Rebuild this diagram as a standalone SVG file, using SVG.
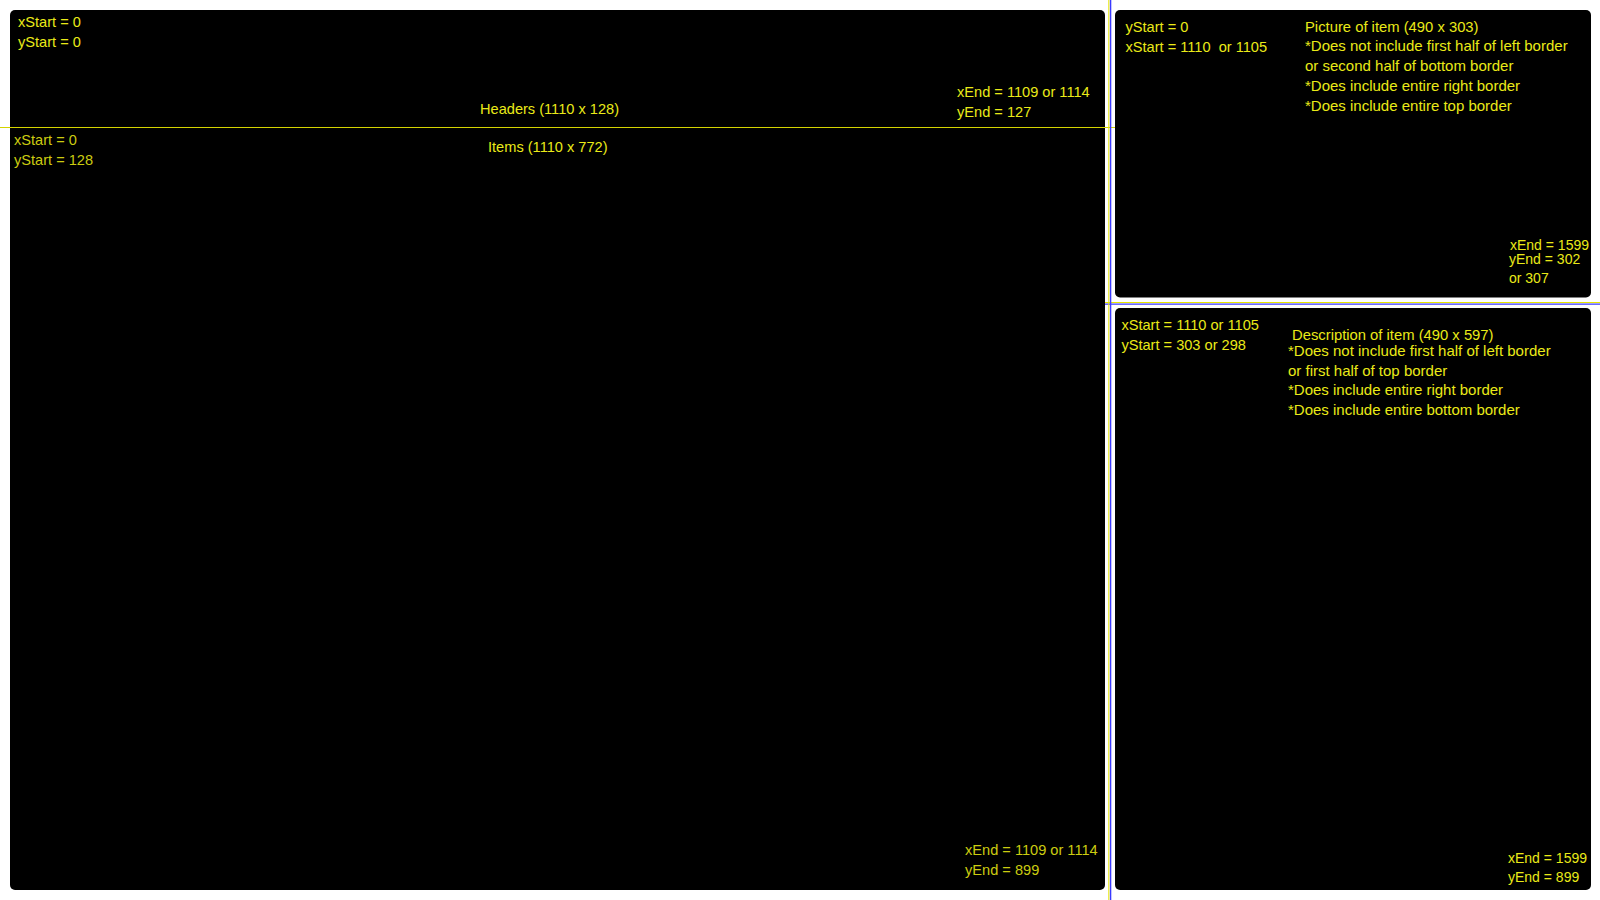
<svg xmlns="http://www.w3.org/2000/svg" width="1600" height="900" viewBox="0 0 1600 900">
<style>
.panel{fill:#000000}
text{font-family:"Liberation Sans",Arial,sans-serif;fill:#eaea18}
.c{font-size:14.6px}
.e{font-size:14px}
.p{font-size:15px}
.thin{fill:#cccc10;font-size:14.6px}
</style>
<rect width="1600" height="900" fill="#ffffff"/>
<g id="main-panel">
<rect class="panel" x="10" y="10" width="1095" height="880" rx="5"/>
</g>
<g id="picture-panel">
<rect class="panel" x="1115" y="10" width="476" height="287.5" rx="5"/>
</g>
<g id="description-panel">
<rect class="panel" x="1115" y="308" width="476" height="582" rx="5"/>
</g>
<g id="connectors">
<line x1="0" y1="127.5" x2="1115" y2="127.5" stroke="#d4d400" stroke-width="1.2"/>
<line x1="1105" y1="302.5" x2="1600" y2="302.5" stroke="#e6e600" stroke-width="1.2"/>
<line x1="1105" y1="304.2" x2="1600" y2="304.2" stroke="#3a3aff" stroke-width="1.2"/>
<line x1="1108.8" y1="0" x2="1108.8" y2="900" stroke="#e6e600" stroke-width="1"/>
<line x1="1110.6" y1="0" x2="1110.6" y2="900" stroke="#3a3aff" stroke-width="1.4"/>
</g>
<g id="headers">
<text class="c" x="18" y="27">xStart = 0</text>
<text class="c" x="18" y="47">yStart = 0</text>
<text class="c" x="480" y="114">Headers (1110 x 128)</text>
<text class="c" x="957" y="96.5">xEnd = 1109 or 1114</text>
<text class="c" x="957" y="116.7">yEnd = 127</text>
</g>
<g id="items">
<text class="thin" x="14" y="144.5">xStart = 0</text>
<text class="thin" x="14" y="164.5">yStart = 128</text>
<text class="c" x="488" y="151.5">Items (1110 x 772)</text>
<text class="thin" x="965" y="854.5">xEnd = 1109 or 1114</text>
<text class="thin" x="965" y="875">yEnd = 899</text>
</g>
<g id="picture">
<text class="c" x="1125.5" y="32">yStart = 0</text>
<text class="c" x="1125.5" y="52.4" xml:space="preserve">xStart = 1110  or 1105</text>
<text class="p" x="1305" y="32" style="font-size:14.8px">Picture of item (490 x 303)</text>
<text class="p" x="1305" y="51.4">*Does not include first half of left border</text>
<text class="p" x="1305" y="70.8">or second half of bottom border</text>
<text class="p" x="1305" y="91.2">*Does include entire right border</text>
<text class="p" x="1305" y="110.6">*Does include entire top border</text>
<text class="e" x="1510" y="250.4">xEnd = 1599</text>
<text class="e" x="1509" y="263.7">yEnd = 302</text>
<text class="e" x="1509" y="283">or 307</text>
</g>
<g id="description">
<text class="c" x="1121.4" y="330">xStart = 1110 or 1105</text>
<text class="c" x="1121.4" y="350.4">yStart = 303 or 298</text>
<text class="p" x="1292" y="340.2" style="font-size:14.8px">Description of item (490 x 597)</text>
<text class="p" x="1288" y="355.5">*Does not include first half of left border</text>
<text class="p" x="1288" y="376">or first half of top border</text>
<text class="p" x="1288" y="395.3">*Does include entire right border</text>
<text class="p" x="1288" y="414.7">*Does include entire bottom border</text>
<text class="e" x="1508" y="862.6">xEnd = 1599</text>
<text class="e" x="1508" y="882">yEnd = 899</text>
</g>
</svg>
